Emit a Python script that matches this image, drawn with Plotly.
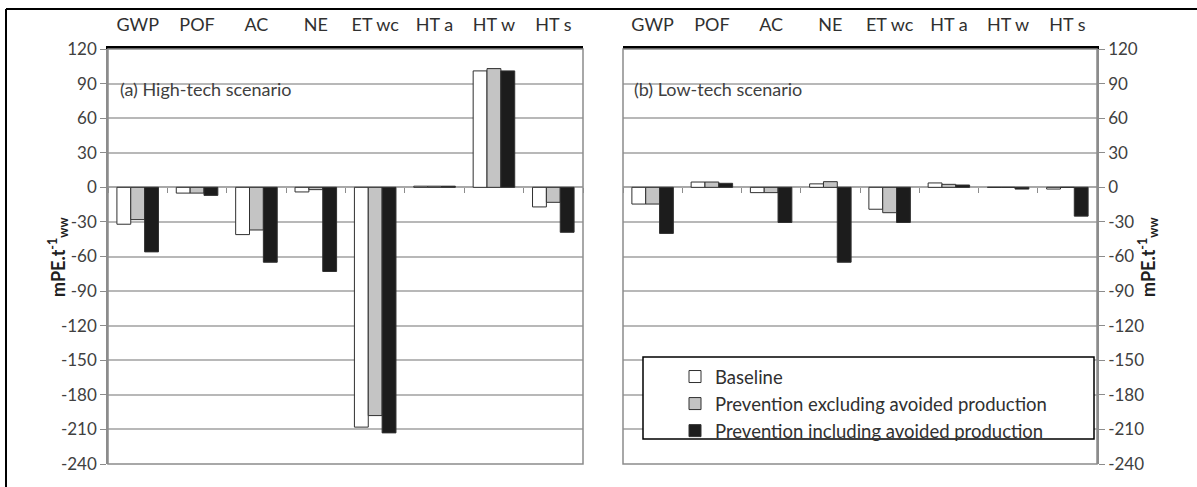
import plotly.graph_objects as go

categories = ["GWP", "POF", "AC", "NE", "ET wc", "HT a", "HT w", "HT s"]
series_names = ["Baseline", "Prevention excluding avoided production",
                "Prevention including avoided production"]

# (a) High-tech scenario
high_baseline = [-32, -5, -41, -4, -208, 1, 101, -17]
high_excl = [-28, -5, -37, -2, -198, 1, 103, -13]
high_incl = [-56, -7, -65, -73, -213, 1, 101, -39]

# (b) Low-tech scenario
low_baseline = [-14.5, 4.6, -4.6, 3, -19, 3.8, 0, -1.5]
low_excl = [-14.5, 4.6, -4.6, 4.9, -22, 2.6, 0, 0]
low_incl = [-40, 3.5, -30.5, -65, -30.5, 2, -1.5, -25]

y_ticks = list(range(-240, 121, 30))
y_ticktext = [str(v) for v in y_ticks]

W, H = 1197, 487
colors = ["#ffffff", "#c4c4c4", "#1c1c1c"]
edge = "#303030"
FONT = "Lato"

fig = go.Figure()
for i, (vals_a, vals_b) in enumerate([(high_baseline, low_baseline),
                                      (high_excl, low_excl),
                                      (high_incl, low_incl)]):
    fig.add_trace(go.Bar(x=categories, y=vals_a, name=series_names[i],
                         marker=dict(color=colors[i], line=dict(color=edge, width=1)),
                         xaxis="x", yaxis="y", showlegend=True, legendgroup=str(i)))
    fig.add_trace(go.Bar(x=categories, y=vals_b, name=series_names[i],
                         marker=dict(color=colors[i], line=dict(color=edge, width=1)),
                         xaxis="x2", yaxis="y2", showlegend=False, legendgroup=str(i)))

def px_x(p):
    return p / W

def px_y(p):
    return 1 - p / H

n = len(categories)
dom_a = [px_x(108), px_x(583)]
dom_b = [px_x(623), px_x(1097)]
dom_y = [px_y(464), px_y(49)]
yr = [-240, 120]
zero_pos = dom_y[0] + (0 - yr[0]) / (yr[1] - yr[0]) * (dom_y[1] - dom_y[0])
boundaries = [k + 0.5 for k in range(-1, n)]

tickfont = dict(family=FONT, size=17, color="#404040")
catfont = dict(family=FONT, size=18, color="#303030")
grid = "#b8b8b8"

xcommon = dict(type="category", categoryorder="array", categoryarray=categories,
               range=[-0.5, n - 0.5], side="top", showline=True, linecolor="#000000",
               linewidth=2.5, ticks="", showgrid=False, tickfont=catfont,
               ticklabelstandoff=8, fixedrange=True, automargin=False)
ycommon = dict(range=yr, tickvals=y_ticks, ticktext=y_ticktext, showgrid=True,
               gridcolor=grid, gridwidth=1.5,
               zeroline=True, zerolinecolor="#a8a8a8", zerolinewidth=2,
               showline=True, linecolor="#8c8c8c", linewidth=1.5, ticks="outside",
               ticklen=6, tickcolor="#8c8c8c", tickfont=tickfont, domain=dom_y,
               automargin=False, fixedrange=True)

# category-boundary ticks on the y = 0 line (linear overlay axes)
tickaxis = dict(type="linear", range=[-0.5, n - 0.5], side="bottom", showline=False,
                ticks="outside", tickvals=boundaries, ticklen=5, tickcolor="#8c8c8c",
                tickwidth=1, showticklabels=False, showgrid=False, zeroline=False,
                anchor="free", position=zero_pos, automargin=False, fixedrange=True)

fig.update_layout(
    width=W, height=H, margin=dict(l=0, r=0, t=0, b=0, autoexpand=False),
    paper_bgcolor="white", plot_bgcolor="white",
    barmode="group", bargap=0.3, bargroupgap=0,
    xaxis=dict(domain=dom_a, anchor="y", **xcommon),
    xaxis2=dict(domain=dom_b, anchor="y2", **xcommon),
    xaxis3=dict(domain=dom_a, overlaying="x", **tickaxis),
    xaxis4=dict(domain=dom_b, overlaying="x2", **tickaxis),
    yaxis=dict(anchor="x", side="left", **ycommon),
    yaxis2=dict(anchor="x2", side="right", **ycommon),
    legend=dict(x=px_x(675), y=px_y(358), xanchor="left", yanchor="top",
                bgcolor="rgba(0,0,0,0)", borderwidth=0,
                font=dict(family=FONT, size=18.5, color="#303030"),
                itemwidth=30, tracegroupgap=0),
    showlegend=True,
)

# empty traces so the overlay tick axes render
fig.add_trace(go.Scatter(x=list(range(n)), y=[None] * n, xaxis="x3", yaxis="y",
                         showlegend=False, hoverinfo="skip"))
fig.add_trace(go.Scatter(x=list(range(n)), y=[None] * n, xaxis="x4", yaxis="y2",
                         showlegend=False, hoverinfo="skip"))

shapes = []
for xr, yref in (("x domain", "y domain"), ("x2 domain", "y2 domain")):
    shapes.append(dict(type="rect", xref=xr, yref=yref, x0=0, x1=1, y0=0, y1=1,
                       line=dict(color="#8c8c8c", width=1.5), layer="above"))
# outer frame: only top and left edges are visible in the picture
shapes.append(dict(type="line", xref="paper", yref="paper", x0=px_x(6), x1=1,
                   y0=px_y(9), y1=px_y(9), line=dict(color="#000000", width=2)))
shapes.append(dict(type="line", xref="paper", yref="paper", x0=px_x(6), x1=px_x(6),
                   y0=0, y1=px_y(9), line=dict(color="#000000", width=2)))
shapes.append(dict(type="rect", xref="paper", yref="paper", x0=px_x(643), x1=px_x(1094),
                   y0=px_y(439), y1=px_y(357), fillcolor="white",
                   line=dict(color="#000000", width=1.5), layer="above"))
fig.update_layout(shapes=shapes)

title = "<b>mPE.t<sup>-1</sup><sub>ww</sub></b>"
tfont = dict(family=FONT, size=18, color="#202020")
fig.add_annotation(text=title, xref="paper", yref="paper",
                   x=px_x(43), y=px_y(257), textangle=-90, showarrow=False, font=tfont)
fig.add_annotation(text=title, xref="paper", yref="paper",
                   x=px_x(1163), y=px_y(257), textangle=-90, showarrow=False, font=tfont)

pfont = dict(family=FONT, size=18, color="#404040")
fig.add_annotation(text="(a) High-tech scenario", xref="paper", yref="paper",
                   x=px_x(118), y=px_y(76), showarrow=False, xanchor="left", font=pfont)
fig.add_annotation(text="(b) Low-tech scenario", xref="paper", yref="paper",
                   x=px_x(632), y=px_y(76), showarrow=False, xanchor="left", font=pfont)

fig.write_html("out.html", config={"displayModeBar": False},
               post_script="document.body.style.margin='0';document.body.style.overflow='hidden';")
